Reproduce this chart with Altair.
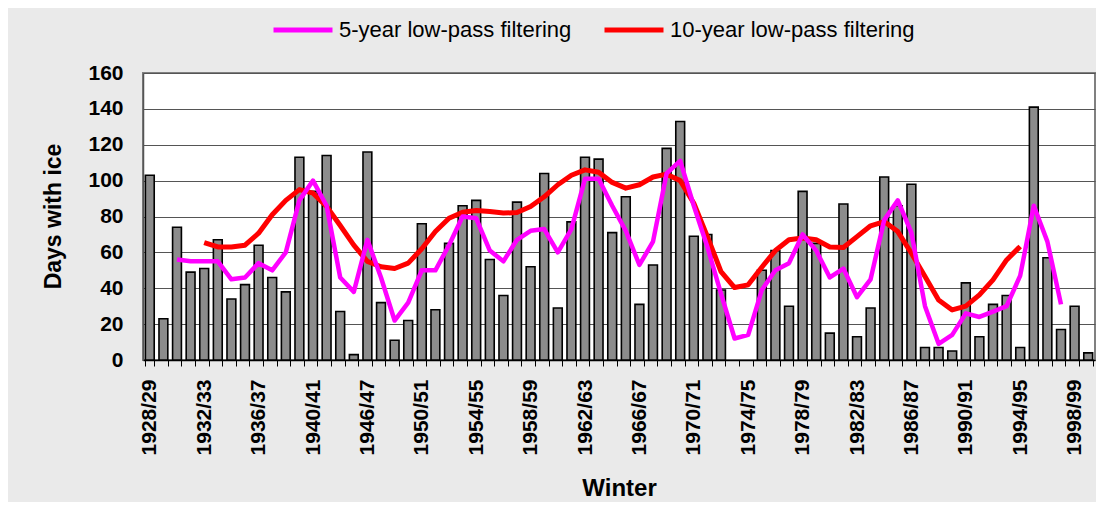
import altair as alt
import pandas as pd

# ---- data ----
winters = (
    [f"{y}/{str(y + 1)[-2:]}" for y in range(1928, 1941)]
    + ["1941/42", "1942/43", "1945/46"]
    + [f"{y}/{str(y + 1)[-2:]}" for y in range(1946, 2000)]
)
days = [103, 23, 74, 49, 51, 67, 34, 42, 64, 46,
        38, 113, 94, 114, 27, 3, 116, 32, 11, 22,
        76, 28, 65, 86, 89, 56, 36, 88, 52, 104,
        29, 77, 113, 112, 71, 91, 31, 53, 118, 133,
        69, 70, 39, 0, 0, 50, 61, 30, 94, 65,
        15, 87, 13, 29, 102, 86, 98, 7, 7, 5,
        43, 13, 31, 36, 7, 141, 57, 17, 30, 4]

lp5_first = "1930/31"
lp5 = [56, 55, 55, 55, 45, 46, 54, 50, 60, 89,
       100, 86, 46, 38, 67, 46, 22, 32, 50, 50,
       64, 80, 79, 61, 55, 67, 72, 73, 60, 73,
       101, 101, 86, 72, 53, 66, 104, 111, 86, 63,
       37, 12, 14, 39, 50, 54, 70, 61, 46, 51,
       35, 45, 78, 89, 71, 30, 9, 14, 26, 24,
       27, 30, 47, 86, 66, 31]

lp10_first = "1932/33"
lp10 = [65.5, 63, 63, 64, 70.7, 81, 89, 95, 93, 85.6,
        75, 64, 55, 52, 51, 54, 62, 71.6, 79, 82.4,
        83.3, 82.8, 81.9, 82.2, 85.6, 91, 97.7, 103, 106, 104.7,
        99, 95.8, 97.7, 102, 103.6, 100, 87.4, 68.8, 49.3, 40.4,
        41.9, 51.7, 61, 67, 68, 67, 63, 62.7, 68.8, 74.8,
        77.2, 71.6, 59.5, 46.5, 33.5, 27.9, 30, 36.3, 44.7, 55.8, 63.3]

label_winters = ["1928/29", "1932/33", "1936/37", "1940/41", "1946/47", "1950/51",
                 "1954/55", "1958/59", "1962/63", "1966/67", "1970/71", "1974/75",
                 "1978/79", "1982/83", "1986/87", "1990/91", "1994/95", "1998/99"]

series_names = ["5-year low-pass filtering", "10-year low-pass filtering"]
series_colors = ["#ff00ff", "#ff0000"]
y_ticks = [0, 20, 40, 60, 80, 100, 120, 140, 160]

# ---- tables ----
bars_df = pd.DataFrame({"Winter": winters, "Days": days})
bars_df = bars_df[bars_df["Days"] > 0]

i5 = winters.index(lp5_first)
i10 = winters.index(lp10_first)
lp5_df = pd.DataFrame({"Winter": winters[i5:i5 + len(lp5)], "Days": lp5,
                       "Series": series_names[0]})
lp10_df = pd.DataFrame({"Winter": winters[i10:i10 + len(lp10)], "Days": lp10,
                        "Series": series_names[1]})

FONT = "Liberation Sans"

label_list = "[" + ",".join(f"'{w}'" for w in label_winters) + "]"
x_enc = alt.X(
    "Winter:N",
    sort=winters,
    scale=alt.Scale(domain=winters, paddingInner=0.35, paddingOuter=0.175),
    axis=alt.Axis(
        title="Winter",
        labelExpr=f"indexof({label_list}, datum.value) >= 0 ? datum.value : ''",
        labelAngle=270,
        labelFont=FONT, labelFontSize=21, labelFontWeight="bold", labelColor="black",
        labelOverlap=False, labelBound=False, labelPadding=13,
        tickBand="extent", tickSize=6, tickColor="black", tickWidth=1,
        domainColor="black", domainWidth=1.5,
        titleFont=FONT, titleFontSize=24, titleFontWeight="bold", titleColor="black",
        titleX=476, titleY=128, titleBaseline="middle",
    ),
)
y_enc = alt.Y(
    "Days:Q",
    scale=alt.Scale(domain=[0, 160], nice=False),
    axis=alt.Axis(
        title="Days with ice",
        values=y_ticks,
        grid=True, gridColor="#555555", gridWidth=1,
        ticks=False, domainColor="#555555", domainWidth=1.5,
        labelFont=FONT, labelFontSize=21, labelFontWeight="bold", labelColor="black",
        labelPadding=20,
        titleFont=FONT, titleFontSize=23, titleFontWeight="bold", titleColor="black",
        titleX=-90, titleY=143, titleBaseline="middle", titleAngle=270,
    ),
)

color_enc = alt.Color(
    "Series:N",
    scale=alt.Scale(domain=series_names, range=series_colors),
    legend=alt.Legend(
        title=None, orient="none", legendX=128, legendY=-75,
        direction="horizontal", symbolType="stroke", symbolSize=3481,
        symbolStrokeWidth=5, labelFont=FONT, labelFontSize=22, labelColor="black",
        labelLimit=500, labelOffset=4, columnPadding=22,
    ),
)

bars = alt.Chart(bars_df).mark_bar(
    color="#8c8c8c", stroke="black", strokeWidth=1.6
).encode(x=x_enc, y=y_enc)

line10 = alt.Chart(lp10_df).mark_line(strokeWidth=5, strokeJoin="round").encode(
    x=x_enc, y=y_enc, color=color_enc)
line5 = alt.Chart(lp5_df).mark_line(strokeWidth=4.5, strokeJoin="round").encode(
    x=x_enc, y=y_enc, color=color_enc)

chart = alt.layer(bars, line10, line5).properties(
    width=952, height=287,
    autosize=alt.AutoSizeParams(type="none"),
    padding={"left": 135, "top": 65, "right": 1, "bottom": 142},
).configure(
    background="#eaeaea",
).configure_view(
    fill="white", stroke="#808080", strokeWidth=2,
)

chart.save("out.html", embed_options={"renderer": "svg", "actions": False})
